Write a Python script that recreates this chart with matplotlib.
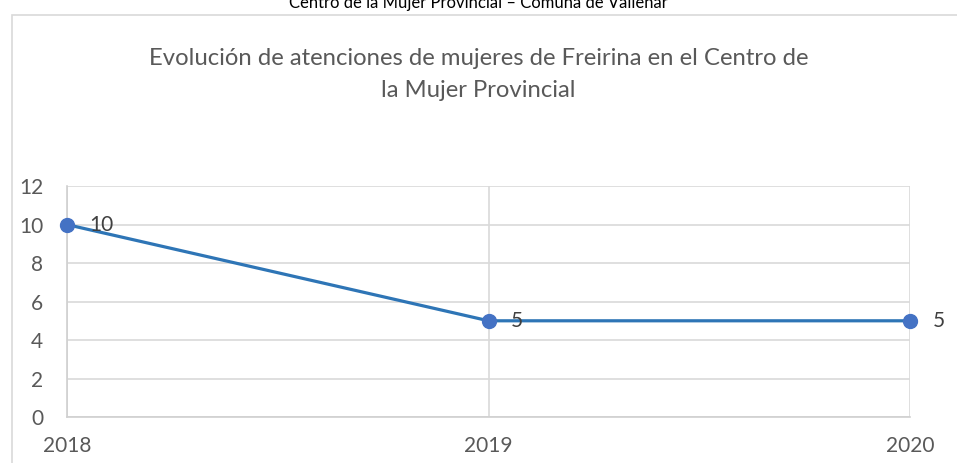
import matplotlib.pyplot as plt
from matplotlib.patches import Rectangle

plt.rcParams['font.family'] = ['Lato', 'DejaVu Sans']

years = ['2018', '2019', '2020']
atenciones = [10, 5, 5]
y_ticks = [0, 2, 4, 6, 8, 10, 12]

fig = plt.figure(figsize=(9.57, 4.63), dpi=100)
ax = fig.add_axes([0.070, 0.0994, 0.881, 0.4986])

x = list(range(len(years)))
ax.plot(x, atenciones, color='#2E75B6', linewidth=2.3, marker='o',
        markersize=10, markerfacecolor='#4472C4', markeredgecolor='#4472C4',
        zorder=3, clip_on=False)

for xi, v in zip(x, atenciones):
    ax.annotate(str(v), (xi, v), xytext=(16, 0), textcoords='offset points',
                va='center', ha='left', fontsize=15, color='#404040')

ax.set_xlim(0, 2)
ax.set_ylim(0, 12)
ax.set_yticks(y_ticks)
ax.set_xticks(x)
ax.set_xticklabels(years)
ax.tick_params(axis='both', length=0, labelsize=15, labelcolor='#595959')
ax.tick_params(axis='x', pad=14)
ax.tick_params(axis='y', pad=17)
ax.grid(True, color='#D9D9D9', linewidth=1.2)
ax.set_axisbelow(True)
for s in ax.spines.values():
    s.set_visible(False)
ax.spines['left'].set_visible(True)
ax.spines['bottom'].set_visible(True)
ax.spines['left'].set_color('#D0D0D0')
ax.spines['bottom'].set_color('#D0D0D0')
ax.spines['left'].set_linewidth(1.2)
ax.spines['bottom'].set_linewidth(1.2)

# outer chart border
fig.patches.append(Rectangle((12 / 957, -0.05), 1.0, 1 - 15 / 463 + 0.05,
                             transform=fig.transFigure, fill=False,
                             edgecolor='#D9D9D9', linewidth=1.2))

fig.text(0.5, 0.993, 'Centro de la Mujer Provincial – Comuna de Vallenar',
         ha='center', va='center', fontsize=12, color='black')
fig.text(0.5, 0.839, 'Evolución de atenciones de mujeres de Freirina en el Centro de\nla Mujer Provincial',
         ha='center', va='center', fontsize=17.2, color='#595959',
         linespacing=1.65)

fig.savefig('out.png', dpi=100)
